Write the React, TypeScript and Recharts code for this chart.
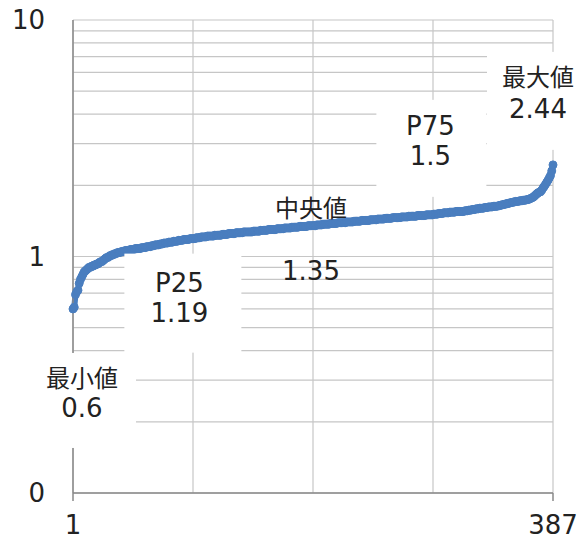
import React from "react"
import { LineChart, Line, XAxis, YAxis, CartesianGrid, LabelList } from "recharts"

// sorted values, rank 1..387
const sortedValues = [
  0.6, 0.61, 0.69, 0.71, 0.72, 0.77, 0.8, 0.82, 0.84, 0.86,
  0.87, 0.88, 0.89, 0.9, 0.9, 0.91, 0.91, 0.92, 0.92, 0.93,
  0.93, 0.94, 0.95, 0.95, 0.96, 0.97, 0.98, 0.99, 0.99, 1.0,
  1.01, 1.01, 1.02, 1.02, 1.03, 1.03, 1.04, 1.04, 1.04, 1.05,
  1.05, 1.05, 1.06, 1.06, 1.06, 1.06, 1.07, 1.07, 1.07, 1.07,
  1.08, 1.08, 1.08, 1.08, 1.08, 1.09, 1.09, 1.09, 1.09, 1.1,
  1.1, 1.1, 1.1, 1.11, 1.11, 1.11, 1.12, 1.12, 1.12, 1.12,
  1.13, 1.13, 1.13, 1.14, 1.14, 1.14, 1.14, 1.15, 1.15, 1.15,
  1.15, 1.16, 1.16, 1.16, 1.16, 1.17, 1.17, 1.17, 1.17, 1.18,
  1.18, 1.18, 1.18, 1.18, 1.19, 1.19, 1.19, 1.19, 1.19, 1.2,
  1.2, 1.2, 1.2, 1.21, 1.21, 1.21, 1.21, 1.21, 1.22, 1.22,
  1.22, 1.22, 1.22, 1.22, 1.23, 1.23, 1.23, 1.23, 1.23, 1.23,
  1.24, 1.24, 1.24, 1.24, 1.24, 1.25, 1.25, 1.25, 1.25, 1.25,
  1.25, 1.26, 1.26, 1.26, 1.26, 1.26, 1.26, 1.27, 1.27, 1.27,
  1.27, 1.27, 1.27, 1.27, 1.27, 1.28, 1.28, 1.28, 1.28, 1.28,
  1.28, 1.29, 1.29, 1.29, 1.29, 1.29, 1.29, 1.3, 1.3, 1.3,
  1.3, 1.3, 1.3, 1.3, 1.31, 1.31, 1.31, 1.31, 1.31, 1.31,
  1.32, 1.32, 1.32, 1.32, 1.32, 1.32, 1.33, 1.33, 1.33, 1.33,
  1.33, 1.33, 1.34, 1.34, 1.34, 1.34, 1.34, 1.34, 1.34, 1.35,
  1.35, 1.35, 1.35, 1.35, 1.35, 1.35, 1.36, 1.36, 1.36, 1.36,
  1.36, 1.37, 1.37, 1.37, 1.37, 1.37, 1.37, 1.38, 1.38, 1.38,
  1.38, 1.38, 1.38, 1.39, 1.39, 1.39, 1.39, 1.39, 1.39, 1.39,
  1.4, 1.4, 1.4, 1.4, 1.4, 1.4, 1.41, 1.41, 1.41, 1.41,
  1.41, 1.41, 1.42, 1.42, 1.42, 1.42, 1.42, 1.42, 1.42, 1.43,
  1.43, 1.43, 1.43, 1.43, 1.43, 1.44, 1.44, 1.44, 1.44, 1.44,
  1.44, 1.45, 1.45, 1.45, 1.45, 1.45, 1.45, 1.46, 1.46, 1.46,
  1.46, 1.46, 1.46, 1.46, 1.47, 1.47, 1.47, 1.47, 1.47, 1.47,
  1.48, 1.48, 1.48, 1.48, 1.48, 1.48, 1.48, 1.49, 1.49, 1.49,
  1.49, 1.49, 1.49, 1.49, 1.5, 1.5, 1.5, 1.5, 1.5, 1.5,
  1.51, 1.51, 1.51, 1.51, 1.52, 1.52, 1.52, 1.52, 1.53, 1.53,
  1.53, 1.53, 1.53, 1.54, 1.54, 1.54, 1.54, 1.54, 1.55, 1.55,
  1.55, 1.55, 1.55, 1.55, 1.55, 1.56, 1.56, 1.56, 1.57, 1.57,
  1.57, 1.58, 1.58, 1.58, 1.59, 1.59, 1.59, 1.6, 1.6, 1.6,
  1.6, 1.61, 1.61, 1.61, 1.62, 1.62, 1.62, 1.62, 1.63, 1.63,
  1.63, 1.63, 1.64, 1.64, 1.65, 1.65, 1.66, 1.66, 1.67, 1.67,
  1.68, 1.68, 1.69, 1.69, 1.7, 1.7, 1.71, 1.71, 1.71, 1.72,
  1.72, 1.72, 1.73, 1.73, 1.73, 1.74, 1.74, 1.75, 1.76, 1.77,
  1.78, 1.8, 1.82, 1.84, 1.86, 1.87, 1.88, 1.91, 1.95, 1.98,
  2.02, 2.06, 2.1, 2.15, 2.2, 2.3, 2.44,
]

const statNames = ["最小値", "P25", "中央値", "P75", "最大値"]
const statLabels = ["0.6", "1.19", "1.35", "1.5", "2.44"]
const statRanks = [1, 97, 194, 290, 387]

const xTicks = [1, 97.5, 194, 290.5, 387]
const xLabels: Record<number, string> = { 1: "1", 387: "387" }
const yTicks = [0.1, 0.2, 0.3, 0.4, 0.5, 0.6, 0.7, 0.8, 0.9, 1, 2, 3, 4, 5, 6, 7, 8, 9, 10]
const yLabels: Record<string, string> = { "0.1": "0", "1": "1", "10": "10" }

// label placement relative to its point: text centre dx, baselines, white box
const labelLayout = [
  { dx: 9, b1: 78, b2: 108, box: [-45, 44, 108, 95] },
  { dx: -13, b1: 53, b2: 83, box: [-68, 15, 117, 99] },
  { dx: -2, b1: -9, b2: 54, box: null },
  { dx: -2, b1: -80, b2: -50, box: [-56, -115, 110, 97] },
  { dx: -15, b1: -79, b2: -47, box: [-66, -113, 103, 98] },
]

const data = sortedValues.map((v, i) => ({ rank: i + 1, value: v }))

const FONT = "'DejaVu Sans', 'Noto Sans CJK JP', sans-serif"
const TEXT = "#222"
const AXIS = "#898989"
const GRID = "#c6c6c6"
const BLUE = "#4a7ebf"

function XTick(props: any) {
  const { x, y, payload } = props
  const label = xLabels[payload.value]
  if (!label) return null
  return (
    <g>
      <line x1={x} y1={y} x2={x} y2={y + 8} stroke={AXIS} strokeWidth={1.5} />
      <text x={x} y={y + 41} textAnchor="middle" fontSize={26} fontFamily={FONT} fill={TEXT}>
        {label}
      </text>
    </g>
  )
}

function YTick(props: any) {
  const { x, y, payload } = props
  const label = yLabels[String(payload.value)]
  if (!label) return null
  return (
    <text x={x} y={y + 9} textAnchor="end" fontSize={26} fontFamily={FONT} fill={TEXT}>
      {label}
    </text>
  )
}

function StatLabel(props: any) {
  const { x, y, index } = props
  const k = statRanks.indexOf(index + 1)
  if (k < 0 || x == null || y == null) return null
  const l = labelLayout[k]
  const cx = x + l.dx
  const cjk = /[^\x00-\x7f]/.test(statNames[k])
  return (
    <g>
      {l.box && <rect x={x + l.box[0]} y={y + l.box[1]} width={l.box[2]} height={l.box[3]} fill="#fff" />}
      <text x={cx} y={y + l.b1} textAnchor="middle" fontSize={cjk ? 24 : 26} fontFamily={FONT} fill={TEXT}>
        {statNames[k]}
      </text>
      <text x={cx} y={y + l.b2} textAnchor="middle" fontSize={26} fontFamily={FONT} fill={TEXT}>
        {statLabels[k]}
      </text>
    </g>
  )
}

export default function App() {
  return (
    <div style={{ width: 584, height: 540, background: "#fff" }}>
      <style>{"body{margin:0}"}</style>
      <LineChart width={584} height={540} data={data} margin={{ top: 20, right: 31, bottom: 0, left: 0 }}>
        <CartesianGrid stroke={GRID} strokeWidth={1.2} />
        <XAxis
          dataKey="rank"
          type="number"
          domain={[1, 387]}
          ticks={xTicks}
          interval={0}
          height={47}
          tickSize={0}
          tickMargin={0}
          tickLine={false}
          axisLine={{ stroke: AXIS, strokeWidth: 1.5 }}
          tick={<XTick />}
        />
        <YAxis
          type="number"
          scale="log"
          domain={[0.1, 10]}
          allowDataOverflow
          ticks={yTicks}
          interval={0}
          width={73}
          tickSize={0}
          tickMargin={28}
          tickLine={false}
          axisLine={{ stroke: AXIS, strokeWidth: 1.5 }}
          tick={<YTick />}
        />
        <Line
          dataKey="value"
          stroke={BLUE}
          strokeWidth={6}
          strokeLinejoin="round"
          dot={{ r: 4, fill: BLUE, stroke: BLUE, strokeWidth: 1 }}
          activeDot={false}
          isAnimationActive={false}
        >
          <LabelList dataKey="value" content={<StatLabel />} />
        </Line>
      </LineChart>
    </div>
  )
}
